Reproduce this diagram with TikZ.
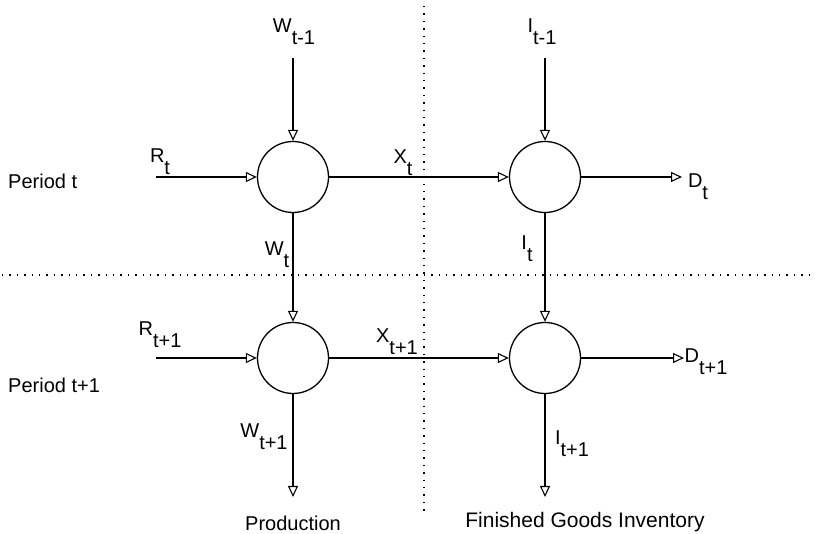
\documentclass[tikz,border=0pt]{standalone}
\usepackage{fontspec}
\setmainfont{Liberation Sans}
\usetikzlibrary{arrows.meta}
\newcommand\lblsub[2]{#1\raisebox{-0.6em}{#2}}
\begin{document}
\begin{tikzpicture}[x=1pt,y=-1pt,
  flow/.style={draw, line width=1.1pt, -{Triangle[open,length=11pt,width=10pt,line width=1.1pt]}},
  junction/.style={circle, draw, line width=1.3pt, minimum size=71pt, inner sep=0pt},
  lbl/.style={font=\fontsize{20}{23}\selectfont, anchor=base, inner sep=0pt},
  txt/.style={font=\fontsize{20}{23}\selectfont, anchor=base, inner sep=0pt},
  divider/.style={line width=1.2pt, dash pattern=on 1.4pt off 6pt}]
\useasboundingbox (0,0) rectangle (815,534);
% dividers
\coordinate (vtop) at (424,6);
\coordinate (vbot) at (424,516);
\coordinate (hl) at (2,275);
\coordinate (hr) at (813,275);
\draw[divider] (vtop) -- (vbot);
\draw[divider] (hl) -- (hr);
% junctions
\node[junction] (c1) at (293,177) {};
\node[junction] (c2) at (545,177) {};
\node[junction] (c3) at (293,358) {};
\node[junction] (c4) at (545,358) {};
% free ends
\coordinate (wtm1) at (293,58);
\coordinate (itm1) at (545,58);
\coordinate (rt) at (156,177);
\coordinate (dt) at (682,177);
\coordinate (rt1) at (156,358);
\coordinate (dt1) at (684,358);
\coordinate (wt1) at (293,497);
\coordinate (it1) at (545,497);
% connectors
\draw[flow] (wtm1) -- (c1.north);
\draw[flow] (itm1) -- (c2.north);
\draw[flow] (rt) -- (c1.west);
\draw[flow] (c1.east) -- (c2.west);
\draw[flow] (c2.east) -- (dt);
\draw[flow] (c1.south) -- (c3.north);
\draw[flow] (c2.south) -- (c4.north);
\draw[flow] (rt1) -- (c3.west);
\draw[flow] (c3.east) -- (c4.west);
\draw[flow] (c4.east) -- (dt1);
\draw[flow] (c3.south) -- (wt1);
\draw[flow] (c4.south) -- (it1);
% labels
\node[lbl] (lwtm1) at (294,33) {\lblsub{W}{t-1}};
\node[lbl] (litm1) at (542,33) {\lblsub{I}{t-1}};
\node[lbl] (lrt) at (160,163) {\lblsub{R}{t}};
\node[lbl] (lxt) at (403,164) {\lblsub{X}{t}};
\node[lbl] (ldt) at (698,188) {\lblsub{D}{t}};
\node[lbl] (lwt) at (277,256) {\lblsub{W}{t}};
\node[lbl] (lit) at (527,250) {\lblsub{I}{t}};
\node[lbl] (lrt1) at (160,336) {\lblsub{R}{t+1}};
\node[lbl] (lxt1) at (397,343) {\lblsub{X}{t+1}};
\node[lbl] (ldt1) at (706,363) {\lblsub{D}{t+1}};
\node[lbl] (lwt1) at (264,438) {\lblsub{W}{t+1}};
\node[lbl] (lit1) at (572,445) {\lblsub{I}{t+1}};
\node[txt, anchor=base west] (pt) at (8,189) {Period t};
\node[txt, anchor=base west] (pt1) at (8,393) {Period t+1};
\node[txt] (prod) at (293,531) {Production};
\node[txt, font=\fontsize{21}{24}\selectfont] (fgi) at (585,528) {Finished Goods Inventory};
\end{tikzpicture}
\end{document}
